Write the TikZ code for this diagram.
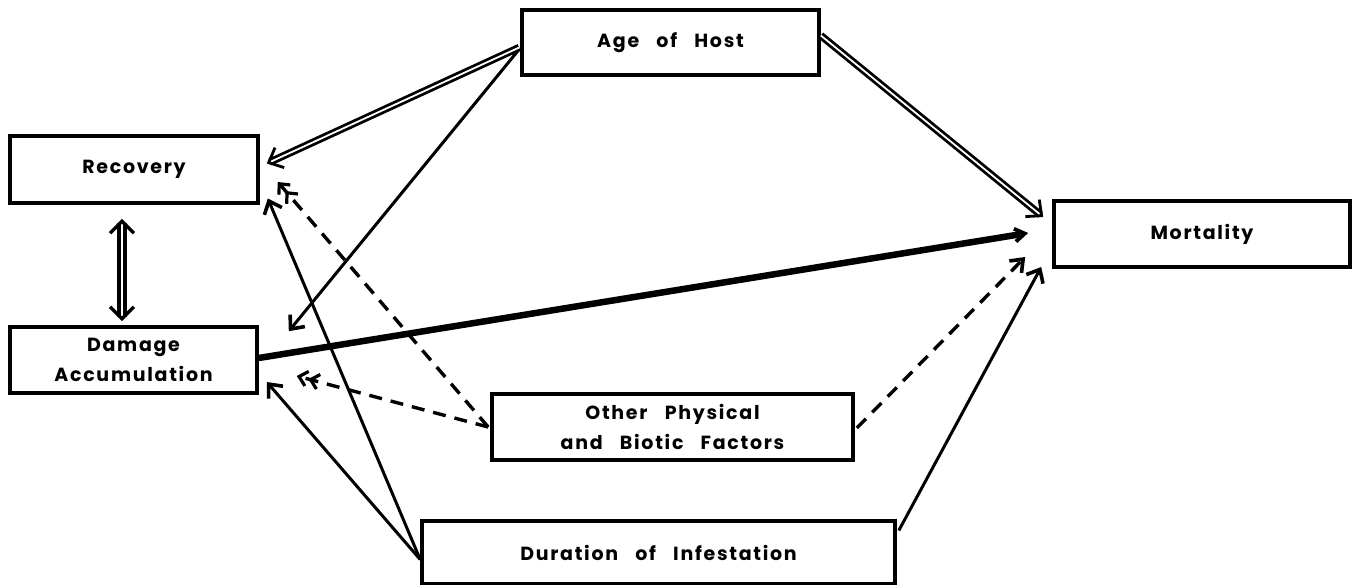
\documentclass[tikz,border=0pt]{standalone}
\usepackage{fontspec}
\setmainfont{Poppins}
\newfontfamily\lblfont{Poppins}[UprightFont={* Bold}, LetterSpace=9, WordSpace=3.0]
\usetikzlibrary{arrows.meta,calc}
\begin{document}
\begin{tikzpicture}[x=1pt,y=-1pt,
  box/.style={draw, line width=3.6pt, inner sep=0pt, align=center,
    font=\lblfont\fontsize{19}{30}\selectfont},
  solidarr/.style={line width=3pt, -{Straight Barb[length=11pt,width=19pt,line width=3.6pt]}},
  thickarr/.style={line width=6.5pt, -{Straight Barb[length=10pt,width=13pt,line width=3.8pt]}},
  dbltip/.tip={Straight Barb[length=12pt,width=22pt]},
  dblarr/.style={double, double distance=1.8pt, line width=2.8pt, -dbltip},
  dasharr/.style={line width=3.4pt, dash pattern=on 13pt off 9pt,
    -{Straight Barb[length=8pt,width=15pt,line width=3.2pt] Straight Barb[length=8pt,width=15pt,line width=3.2pt]}},
  dashone/.style={line width=3.4pt, dash pattern=on 13pt off 9pt,
    -{Straight Barb[length=11pt,width=17pt,line width=3.6pt]}}
]
\useasboundingbox (0,0) rectangle (1356,585);
\fill[white] (0,0) rectangle (1356,585);

\node[box, minimum width=297pt, minimum height=65pt] (age) at (670.5,42.5) {Age of Host};
\node[box, minimum width=248pt, minimum height=67pt] (rec) at (134,169.5) {Recovery};
\node[box, minimum width=247pt, minimum height=66pt] (dam) at (133.5,360) {Damage\\Accumulation};
\node[box, minimum width=296pt, minimum height=66pt] (mort) at (1202,234) {Mortality};
\node[box, minimum width=361pt, minimum height=66pt] (oth) at (672.5,427) {Other Physical\\and Biotic Factors};
\node[box, minimum width=473pt, minimum height=63pt] (dur) at (658.5,552.5) {Duration of Infestation};

% Age of Host
\draw[dblarr] ($(age.west)+(-1,5)$) -- ($(rec.east)+(7,-6)$);
\draw[solidarr] ($(age.west)+(-2,8)$) -- ($(dam.north east)+(30,6)$);
\draw[dblarr] ($(age.east)+(0,-7)$) -- ($(mort.west)+(-9,-17)$);

% to Mortality
\draw[thickarr] ($(dam.east)+(0,-2)$) -- ($(mort.west)+(-24,-1)$);
\draw[dashone] ($(oth.east)+(2,1)$) -- ($(mort.west)+(-27,23)$);
\draw[solidarr] ($(dur.east)+(2,-22)$) -- ($(mort.west)+(-11,33)$);

% Other factors
\draw[dasharr] ($(oth.west)+(-2,0)$) -- ($(rec.east)+(18,12.5)$);
\draw[dasharr] ($(oth.west)+(-2,0)$) -- ($(dam.east)+(38,16)$);

% Duration
\draw[solidarr] ($(dur.west)+(0,7)$) -- ($(rec.east)+(8,29)$);
\draw[solidarr] ($(dur.west)+(0,7)$) -- ($(dam.east)+(8,22)$);

% Recovery <-> Damage
\draw[double, double distance=2.4pt, line width=3.4pt,
  {Straight Barb[length=12pt,width=24pt]}-{Straight Barb[length=12pt,width=24pt]}]
  ($(rec.south)+(-12,14)$) -- ($(dam.north)+(-11.5,-4)$);
\end{tikzpicture}
\end{document}
